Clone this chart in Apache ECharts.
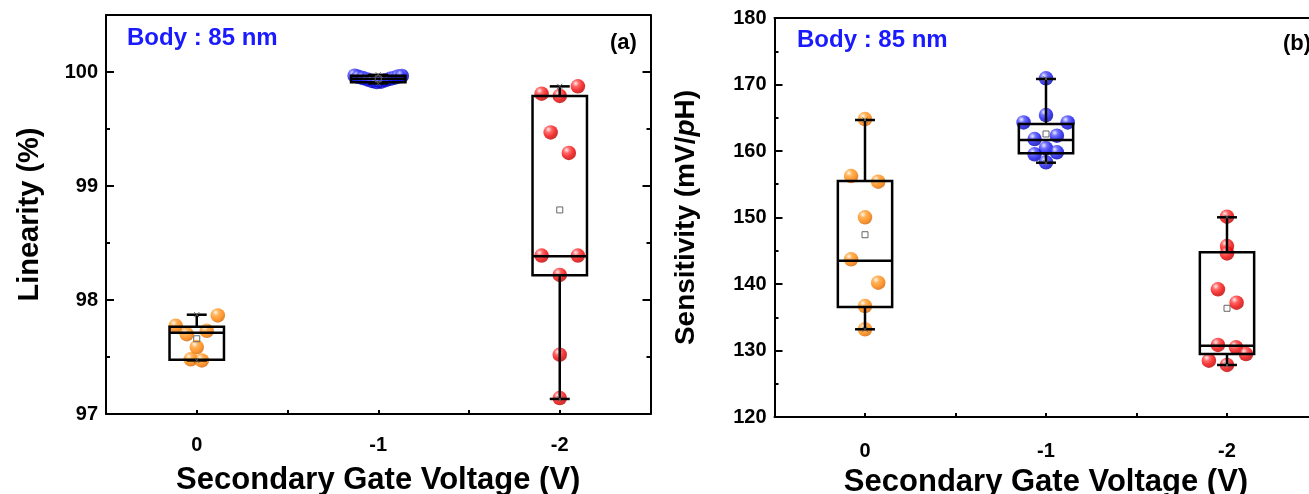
<!DOCTYPE html>
<html><head><meta charset="utf-8">
<script src="https://cdn.jsdelivr.net/npm/echarts@6/dist/echarts.min.js"></script>
<style>html,body{margin:0;padding:0;background:#fff}#c{width:1309px;height:494px}</style>
</head><body><div id="c"></div><script>
// ---------------- data ----------------
const categories = ['0', '-1', '-2'];
const xTitle = 'Secondary Gate Voltage (V)';

// (a) Linearity (%) : measured points per gate voltage, with horizontal jitter (in category units)
const lin0Values = [97.865, 97.774, 97.70, 97.73, 97.587, 97.48, 97.47];
const lin0Jitter = [0.116, -0.116, -0.055, 0.055, 0, -0.033, 0.028];
const lin1Values = [99.968, 99.958, 99.947, 99.935, 99.922, 99.912, 99.915, 99.928, 99.94, 99.95, 99.96, 99.966];
const lin1Jitter = [-0.13, -0.11, -0.085, -0.06, -0.035, -0.01, 0.015, 0.04, 0.065, 0.09, 0.11, 0.13];
const lin2Values = [99.874, 99.81, 99.79, 99.47, 99.29, 98.39, 98.39, 98.22, 97.52, 97.14];
const lin2Jitter = [0.1, -0.1, 0, -0.05, 0.05, -0.1, 0.1, 0, 0, 0];
// box stats: [min, Q1, median, Q3, max, mean]
const linBox0 = [97.47, 97.475, 97.713, 97.766, 97.871, 97.66];
const linBox1 = [99.90, 99.91, 99.94, 99.967, 99.975, 99.94];
const linBox2 = [97.132, 98.217, 98.384, 99.79, 99.874, 98.79];

// (b) Sensitivity (mV/pH)
const sens0Values = [164.8, 156.24, 155.38, 150.03, 143.71, 140.2, 136.69, 133.19];
const sens0Jitter = [0, -0.077, 0.073, 0, -0.077, 0.073, 0, 0];
const sens1Values = [170.93, 165.41, 164.3, 164.3, 161.8, 162.3, 160.4, 159.5, 159.8, 158.3];
const sens1Jitter = [0, 0, -0.124, 0.12, -0.063, 0.06, 0, -0.063, 0.06, 0];
const sens2Values = [150.12, 145.71, 144.6, 139.2, 137.19, 130.83, 130.48, 129.47, 128.47, 127.82];
const sens2Jitter = [0, 0, 0, -0.05, 0.053, -0.05, 0.05, 0.105, -0.1, 0];
const sensBox0 = [133.19, 136.54, 143.5, 155.49, 164.66, 147.41];
const sensBox1 = [158.24, 159.65, 161.65, 164.06, 170.83, 162.56];
const sensBox2 = [127.82, 129.47, 130.72, 144.77, 150.03, 136.35];

// ---------------- styles ----------------
const FONT = '"Liberation Sans", Arial, sans-serif';
function ball(c0, c1, c2, c3) {
  return { type: 'radial', x: 0.35, y: 0.3, r: 0.75,
    colorStops: [{ offset: 0, color: c0 }, { offset: 0.3, color: c1 }, { offset: 0.65, color: c2 }, { offset: 1, color: c3 }] };
}
const ORANGE = ball('#fff4e6', '#ffa030', '#ff8000', '#d06000');
const BLUE = ball('#e8e8ff', '#4a4aff', '#1010ee', '#0000a0');
const RED = ball('#ffe8e8', '#ff4040', '#f00000', '#b00000');
const BLACK = '#000';

function pts(idx, vals, jit) { return vals.map((v, k) => [idx + jit[k], v]); }
function boxRow(idx, b) { return [idx].concat(b); }

function boxRender(params, api) {
  const i = api.value(0);
  const c = v => api.coord([i, v]);
  const pMin = c(api.value(1)), pQ1 = c(api.value(2)), pMd = c(api.value(3)),
        pQ3 = c(api.value(4)), pMx = c(api.value(5)), pMean = c(api.value(6));
  const bw = api.size([0.3, 0])[0];
  const cw = api.size([0.11, 0])[0];
  const x = pMd[0];
  const st = { stroke: BLACK, lineWidth: 2.5, fill: 'none' };
  const xs = (p) => [
    { type: 'line', shape: { x1: x - 2.5, y1: p[1] - 2.5, x2: x + 2.5, y2: p[1] + 2.5 }, style: { stroke: '#555', lineWidth: 1 } },
    { type: 'line', shape: { x1: x - 2.5, y1: p[1] + 2.5, x2: x + 2.5, y2: p[1] - 2.5 }, style: { stroke: '#555', lineWidth: 1 } }
  ];
  const children = [
    { type: 'line', shape: { x1: x, y1: pMx[1], x2: x, y2: pQ3[1] }, style: st },
    { type: 'line', shape: { x1: x, y1: pQ1[1], x2: x, y2: pMin[1] }, style: st },
    { type: 'line', shape: { x1: x - cw / 2, y1: pMx[1], x2: x + cw / 2, y2: pMx[1] }, style: st },
    { type: 'line', shape: { x1: x - cw / 2, y1: pMin[1], x2: x + cw / 2, y2: pMin[1] }, style: st },
    { type: 'rect', shape: { x: x - bw / 2, y: pQ3[1], width: bw, height: Math.max(pQ1[1] - pQ3[1], 0.5) }, style: st },
    { type: 'line', shape: { x1: x - bw / 2, y1: pMd[1], x2: x + bw / 2, y2: pMd[1] }, style: st },
    { type: 'rect', shape: { x: x - 3, y: pMean[1] - 3, width: 6, height: 6 }, style: { stroke: '#666', lineWidth: 1, fill: 'none' } }
  ].concat(xs(pMx), xs(pMin));
  return { type: 'group', children };
}

function xAxes(g, labelMargin, nameGap) {
  const line = { onZero: false, lineStyle: { color: BLACK, width: 2 } };
  return [
    { gridIndex: g, type: 'value', min: -0.5, max: 2.5, interval: 0.5, position: 'bottom',
      axisLine: line, axisTick: { inside: true, length: 4, lineStyle: { color: BLACK, width: 2 } },
      axisLabel: { show: false }, splitLine: { show: false } },
    { gridIndex: g, type: 'category', data: categories, position: 'bottom', boundaryGap: true,
      axisLine: { show: false, onZero: false },
      axisTick: { alignWithLabel: true, inside: true, length: 8, interval: 0, lineStyle: { color: BLACK, width: 2 } },
      axisLabel: { interval: 0, margin: labelMargin, color: BLACK, fontSize: 20, fontWeight: 'bold', fontFamily: FONT },
      name: xTitle, nameLocation: 'middle', nameGap: nameGap,
      nameTextStyle: { color: BLACK, fontSize: 31, fontWeight: 'bold', fontFamily: FONT } },
    { gridIndex: g, type: 'category', data: categories, position: 'top', boundaryGap: true,
      axisLine: line,
      axisTick: { alignWithLabel: true, inside: true, length: 5, interval: 0, lineStyle: { color: BLACK, width: 2 } },
      axisLabel: { show: false } }
  ];
}
function yAxes(g, min, max, major, minor, fmt, name, nameGap, nameStyle) {
  const line = { onZero: false, lineStyle: { color: BLACK, width: 2 } };
  const tick = (len) => ({ inside: true, length: len, lineStyle: { color: BLACK, width: 2 } });
  return [
    { gridIndex: g, type: 'value', min, max, interval: major, position: 'left', axisLine: line, axisTick: tick(8),
      splitLine: { show: false },
      axisLabel: { formatter: fmt, margin: 8, color: BLACK, fontSize: 20, fontWeight: 'bold', fontFamily: FONT },
      name: name, nameLocation: 'middle', nameGap: nameGap, nameTextStyle: nameStyle },
    { gridIndex: g, type: 'value', min, max, interval: minor, position: 'left', axisLine: { show: false, onZero: false },
      axisTick: tick(4), axisLabel: { show: false }, splitLine: { show: false } },
    { gridIndex: g, type: 'value', min, max, interval: major, position: 'right', axisLine: line, axisTick: tick(8),
      axisLabel: { show: false }, splitLine: { show: false } },
    { gridIndex: g, type: 'value', min, max, interval: minor, position: 'right', axisLine: { show: false, onZero: false },
      axisTick: tick(4), axisLabel: { show: false }, splitLine: { show: false } }
  ];
}
const intFmt = v => (Math.abs(v - Math.round(v)) < 1e-9 ? String(Math.round(v)) : '');

function scatter(xi, yi, data, color) {
  return { type: 'scatter', xAxisIndex: xi, yAxisIndex: yi, data, symbol: 'circle', symbolSize: 14.5, z: 2,
    itemStyle: { color, borderWidth: 0 }, silent: true, animation: false };
}
function boxes(xi, yi, rows) {
  return { type: 'custom', xAxisIndex: xi, yAxisIndex: yi, data: rows, renderItem: boxRender, z: 5,
    encode: { x: 0, y: [1, 2, 3, 4, 5] }, silent: true, animation: false };
}

const chart = echarts.init(document.getElementById('c'), null, { renderer: 'canvas' });
chart.setOption({
  backgroundColor: '#fff',
  animation: false,
  grid: [
    { left: 106, top: 15, width: 544.5, height: 399, containLabel: false, outerBoundsMode: 'none' },
    { left: 774.5, top: 18, width: 543, height: 399, containLabel: false, outerBoundsMode: 'none' }
  ],
  xAxis: xAxes(0, 21, 51).concat(xAxes(1, 24, 50)),
  yAxis: yAxes(0, 97, 100.5, 1, 0.5, intFmt, 'Linearity (%)', 62,
      { color: BLACK, fontSize: 29, fontWeight: 'bold', fontFamily: FONT })
    .concat(yAxes(1, 120, 180, 10, 5, intFmt, '{a|Sensitivity (mV/}{b|p}{a|H)}', 74,
      { rich: { a: { color: BLACK, fontSize: 28, fontWeight: 'bold', fontFamily: FONT },
                b: { color: BLACK, fontSize: 28, fontWeight: 'bold', fontStyle: 'italic', fontFamily: FONT } } })),
  graphic: [
    { type: 'text', x: 127, y: 38, style: { text: 'Body : 85 nm', fill: '#1a1aff', font: 'bold 24px ' + FONT, verticalAlign: 'middle' } },
    { type: 'text', x: 610, y: 43, style: { text: '(a)', fill: BLACK, font: 'bold 22px ' + FONT, verticalAlign: 'middle' } },
    { type: 'text', x: 797, y: 40, style: { text: 'Body : 85 nm', fill: '#1a1aff', font: 'bold 24px ' + FONT, verticalAlign: 'middle' } },
    { type: 'text', x: 1283, y: 44, style: { text: '(b)', fill: BLACK, font: 'bold 22px ' + FONT, verticalAlign: 'middle' } }
  ],
  series: [
    scatter(0, 0, pts(0, lin0Values, lin0Jitter), ORANGE),
    scatter(0, 0, pts(1, lin1Values, lin1Jitter), BLUE),
    scatter(0, 0, pts(2, lin2Values, lin2Jitter), RED),
    boxes(0, 0, [boxRow(0, linBox0), boxRow(1, linBox1), boxRow(2, linBox2)]),
    scatter(3, 4, pts(0, sens0Values, sens0Jitter), ORANGE),
    scatter(3, 4, pts(1, sens1Values, sens1Jitter), BLUE),
    scatter(3, 4, pts(2, sens2Values, sens2Jitter), RED),
    boxes(3, 4, [boxRow(0, sensBox0), boxRow(1, sensBox1), boxRow(2, sensBox2)])
  ]
});
</script></body></html>
